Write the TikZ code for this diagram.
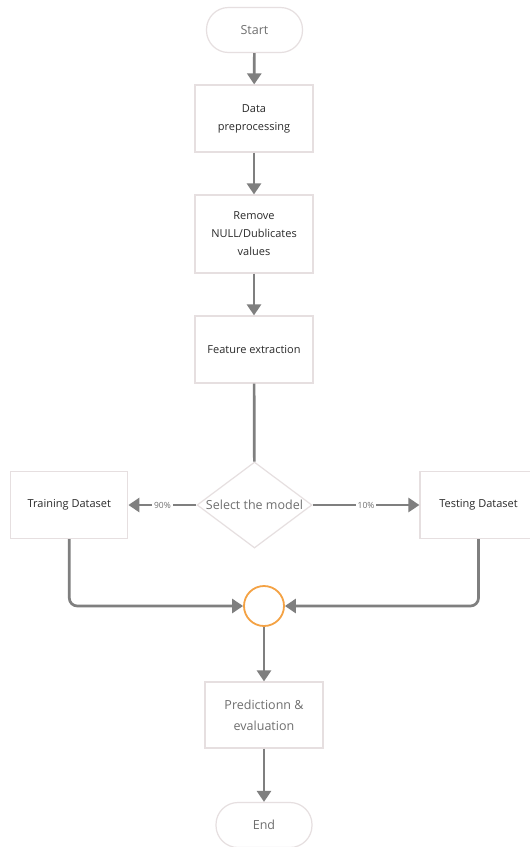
\documentclass[tikz,border=0pt]{standalone}
\usepackage{fontspec}
\setmainfont{Open Sans}
\usetikzlibrary{shapes.geometric,arrows.meta}
\definecolor{linegray}{HTML}{7F7F7F}
\definecolor{boxborder}{HTML}{E6DFE0}
\definecolor{txtgray}{HTML}{6F6F6F}
\definecolor{txtdark}{HTML}{2A2A2A}
\definecolor{circorange}{HTML}{F4A244}
\begin{document}
\begin{tikzpicture}[x=1pt,y=-1pt,
  box/.style={draw=boxborder, line width=1.2pt, fill=white, inner sep=0pt,
    minimum width=118pt, align=center, text=txtdark,
    font=\fontsize{11}{18}\selectfont},
  lightbox/.style={box, text=txtgray, font=\fontsize{12.5}{21}\selectfont},
  term/.style={draw=boxborder, line width=1.2pt, fill=white, rounded corners=22pt,
    minimum width=96pt, minimum height=45pt, inner sep=0pt, text=txtgray,
    font=\fontsize{12.5}{15}\selectfont},
  dia/.style={diamond, aspect=1.34, draw=boxborder, line width=1.2pt, fill=white, inner sep=0pt,
    minimum width=115pt, minimum height=86pt, text=txtgray,
    font=\fontsize{12.5}{15}\selectfont},
  joint/.style={circle, draw=circorange, line width=1.8pt, fill=white,
    minimum size=40pt, inner sep=0pt},
  flow/.style={draw=linegray, line width=2.7pt, -{Triangle[width=14pt,length=11pt]}},
  plainline/.style={draw=linegray, line width=2.7pt},
  lbl/.style={fill=white, inner sep=2pt, text=txtgray, font=\fontsize{8.5}{10}\selectfont}
]
\fill[white] (0,0) rectangle (530,847);
\useasboundingbox (0,0) rectangle (530,847);

\node[term] (start) at (254.5,30) {Start};
\node[box, minimum height=67pt] (data) at (254,118.5) {Data\\preprocessing};
\node[box, minimum height=78pt] (remove) at (254,234) {Remove\\NULL/Dublicates\\values};
\node[box, minimum height=67pt] (feat) at (254,349.5) {Feature extraction};
\node[dia] (sel) at (254.5,505) {Select the model};
\node[box, minimum width=117pt, minimum height=67pt] (train) at (69.3,505) {Training Dataset};
\node[box, minimum width=117pt, minimum height=67pt] (test) at (478.5,505) {Testing Dataset};
\node[joint] (circ) at (264,606) {};
\node[lightbox, minimum height=66pt] (pred) at (264,715) {Predictionn \&\\evaluation};
\node[term] (end) at (264,825) {End};

\draw[flow] (start) -- (data);
\draw[flow] (data) -- (remove);
\draw[flow] (remove) -- (feat);
\draw[plainline] (feat) -- (sel);
\draw[flow] (sel) -- node[lbl] {90\%} (train);
\draw[flow] (sel) -- node[lbl] {10\%} (test);
\draw[flow, rounded corners=8pt] (train.south) |- (circ.west);
\draw[flow, rounded corners=8pt] (test.south) |- (circ.east);
\draw[flow] (circ) -- (pred);
\draw[flow] (pred) -- (end);
\end{tikzpicture}
\end{document}
